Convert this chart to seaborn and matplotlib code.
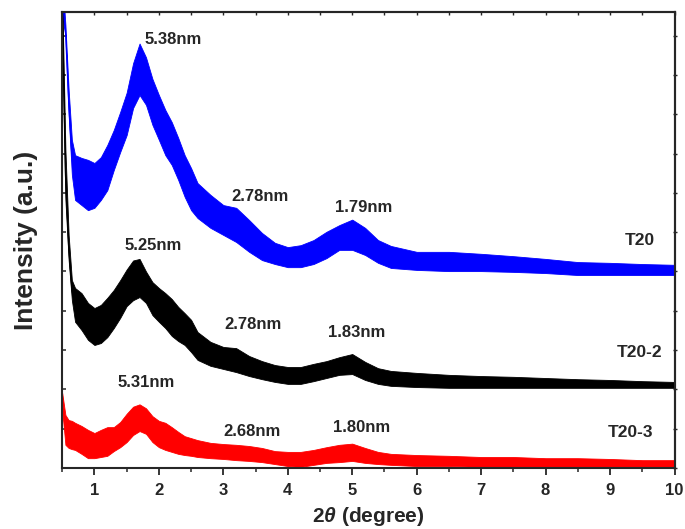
import matplotlib
matplotlib.use("Agg")
import matplotlib.pyplot as plt
import pandas as pd
import seaborn as sns
from matplotlib.ticker import MultipleLocator, NullFormatter

two_theta = [0.5, 0.55, 0.6, 0.65, 0.7, 0.8, 0.9, 1.0, 1.1, 1.2, 1.3, 1.4, 1.5,
             1.6, 1.7, 1.8, 1.9, 2.0, 2.1, 2.2, 2.3, 2.4, 2.5, 2.6, 2.8, 3.0,
             3.2, 3.4, 3.6, 3.8, 4.0, 4.2, 4.4, 4.6, 4.8, 5.0, 5.2, 5.4, 5.6,
             6.0, 6.5, 7.0, 7.5, 8.0, 8.5, 9.0, 9.5, 10.0]

# upper / lower edge of the noisy trace (offset, arbitrary units)
t20_hi = [12.5, 11.27, 9.62, 8.35, 7.96, 7.89, 7.84, 7.76, 7.91, 8.22, 8.60, 9.06,
          9.55, 10.3, 10.8, 10.45, 9.9, 9.49, 9.11, 8.80, 8.40, 7.96, 7.63, 7.25,
          6.95, 6.69, 6.62, 6.31, 5.98, 5.73, 5.62, 5.67, 5.80, 6.01, 6.18, 6.32,
          6.11, 5.80, 5.65, 5.50, 5.50, 5.45, 5.39, 5.32, 5.24, 5.22, 5.19, 5.17]
t20_lo = [11.5, 11.0, 8.98, 7.46, 6.82, 6.69, 6.56, 6.62, 6.82, 7.07, 7.58, 8.04,
          8.47, 9.16, 9.49, 9.24, 8.73, 8.35, 7.96, 7.71, 7.33, 6.90, 6.56, 6.36,
          6.11, 5.93, 5.75, 5.50, 5.29, 5.19, 5.11, 5.11, 5.19, 5.34, 5.55, 5.55,
          5.42, 5.22, 5.09, 5.04, 5.01, 5.01, 4.99, 4.96, 4.91, 4.91, 4.91, 4.91]

t20_2_hi = [12.0, 8.09, 5.93, 4.78, 4.58, 4.45, 4.20, 4.07, 4.15, 4.33, 4.53, 4.78,
            5.05, 5.28, 5.32, 5.0, 4.73, 4.58, 4.45, 4.30, 4.10, 3.94, 3.77, 3.46,
            3.21, 3.08, 3.05, 2.85, 2.72, 2.62, 2.57, 2.57, 2.65, 2.72, 2.82, 2.90,
            2.70, 2.54, 2.47, 2.42, 2.37, 2.34, 2.32, 2.29, 2.26, 2.24, 2.21, 2.19]
t20_2_lo = [11.0, 6.82, 5.29, 4.27, 3.72, 3.51, 3.26, 3.13, 3.18, 3.33, 3.56, 3.82,
            4.12, 4.27, 4.35, 4.20, 3.89, 3.72, 3.56, 3.36, 3.23, 3.13, 2.95, 2.75,
            2.60, 2.52, 2.44, 2.34, 2.26, 2.19, 2.14, 2.14, 2.21, 2.29, 2.37, 2.39,
            2.24, 2.14, 2.09, 2.06, 2.04, 2.04, 2.04, 2.04, 2.04, 2.04, 2.04, 2.04]

t20_3_hi = [1.91, 1.35, 1.22, 1.20, 1.15, 1.07, 0.97, 0.89, 0.97, 1.04, 1.04, 1.17,
            1.38, 1.56, 1.62, 1.52, 1.32, 1.20, 1.15, 1.04, 0.92, 0.81, 0.76, 0.71,
            0.64, 0.61, 0.59, 0.56, 0.51, 0.43, 0.41, 0.41, 0.46, 0.53, 0.59, 0.62,
            0.51, 0.41, 0.36, 0.33, 0.31, 0.28, 0.28, 0.25, 0.25, 0.23, 0.20, 0.20]
t20_3_lo = [1.48, 0.59, 0.51, 0.48, 0.46, 0.36, 0.25, 0.25, 0.28, 0.31, 0.43, 0.53,
            0.66, 0.84, 0.94, 0.87, 0.66, 0.53, 0.46, 0.41, 0.36, 0.33, 0.31, 0.28,
            0.25, 0.23, 0.20, 0.18, 0.15, 0.10, 0.05, 0.03, 0.08, 0.13, 0.15, 0.18,
            0.13, 0.10, 0.08, 0.05, 0.05, 0.03, 0.03, 0.03, 0.03, 0.03, 0.03, 0.03]

samples = ["T20", "T20-2", "T20-3"]
sample_colors = ["#0000ff", "#000000", "#ff0000"]

# d-spacing labels and sample names, with where they sit (data coords)
d_labels = ["5.38nm", "2.78nm", "1.79nm",
            "5.25nm", "2.78nm", "1.83nm",
            "5.31nm", "2.68nm", "1.80nm"]
d_label_xy = [(1.77, 10.9), (3.12, 6.9), (4.73, 6.64),
              (1.46, 5.67), (3.02, 3.64), (4.63, 3.46),
              (1.36, 2.18), (3.0, 0.94), (4.7, 1.02)]
sample_label_xy = [(9.23, 5.8), (9.1, 2.95), (8.96, 0.9)]

frames = []
for name, hi, lo in zip(samples, [t20_hi, t20_2_hi, t20_3_hi], [t20_lo, t20_2_lo, t20_3_lo]):
    frames.append(pd.DataFrame({"two_theta": two_theta + two_theta,
                                "intensity": hi + lo,
                                "sample": name}))
df = pd.concat(frames, ignore_index=True)

sns.set_style("ticks")
plt.rcParams["font.family"] = ["Liberation Sans", "DejaVu Sans"]
plt.rcParams["font.weight"] = "bold"
plt.rcParams["mathtext.fontset"] = "custom"
plt.rcParams["mathtext.it"] = "Liberation Sans:italic:bold"
plt.rcParams["mathtext.rm"] = "Liberation Sans:bold"

fig = plt.figure(figsize=(6.85, 5.29), dpi=100)
ax = fig.add_axes([0.0908, 0.1153, 0.8939, 0.8611])

# min-max band of the two envelope readings gives the noisy trace width
sns.lineplot(data=df, x="two_theta", y="intensity", hue="sample",
             palette=dict(zip(samples, sample_colors)),
             estimator="mean", errorbar=("pi", 100),
             err_kws={"alpha": 1, "linewidth": 0.6},
             linewidth=0.8, legend=False, ax=ax)

for txt, (x, y) in zip(d_labels, d_label_xy):
    ax.text(x, y, txt, fontsize=12, fontweight="bold", va="center", ha="left")
for txt, (x, y) in zip(samples, sample_label_xy):
    ax.text(x, y, txt, fontsize=12.5, fontweight="bold", va="center", ha="left")

ax.set_xlim(0.5, 10)
ax.set_ylim(0, 11.59)
ax.xaxis.set_major_locator(MultipleLocator(1))
ax.xaxis.set_minor_locator(MultipleLocator(0.5))
ax.yaxis.set_major_locator(MultipleLocator(1))
ax.yaxis.set_major_formatter(NullFormatter())
ax.tick_params(axis="x", which="major", direction="out", length=5, width=1.3,
               labelsize=12, pad=6)
ax.tick_params(axis="x", which="minor", direction="out", length=3, width=1.1)
ax.tick_params(axis="y", which="major", direction="in", length=3, width=1.1)
for lab in ax.get_xticklabels():
    lab.set_fontweight("bold")

top = ax.secondary_xaxis("top")
top.xaxis.set_major_locator(MultipleLocator(0.5))
top.tick_params(direction="in", length=2, width=1, labeltop=False)
right = ax.secondary_yaxis("right")
right.yaxis.set_major_locator(MultipleLocator(1))
right.tick_params(direction="inout", length=3, width=1, labelright=False)

for sp in list(ax.spines.values()) + [top.spines["top"], right.spines["right"]]:
    sp.set_linewidth(1.5)
    sp.set_visible(True)

ax.set_xlabel(r"2$\it{\theta}$ (degree)", fontsize=15, fontweight="bold", labelpad=5)
ax.set_ylabel("Intensity (a.u.)", fontsize=19, fontweight="bold", labelpad=14)

fig.savefig("out.png", dpi=100)
plt.close(fig)
